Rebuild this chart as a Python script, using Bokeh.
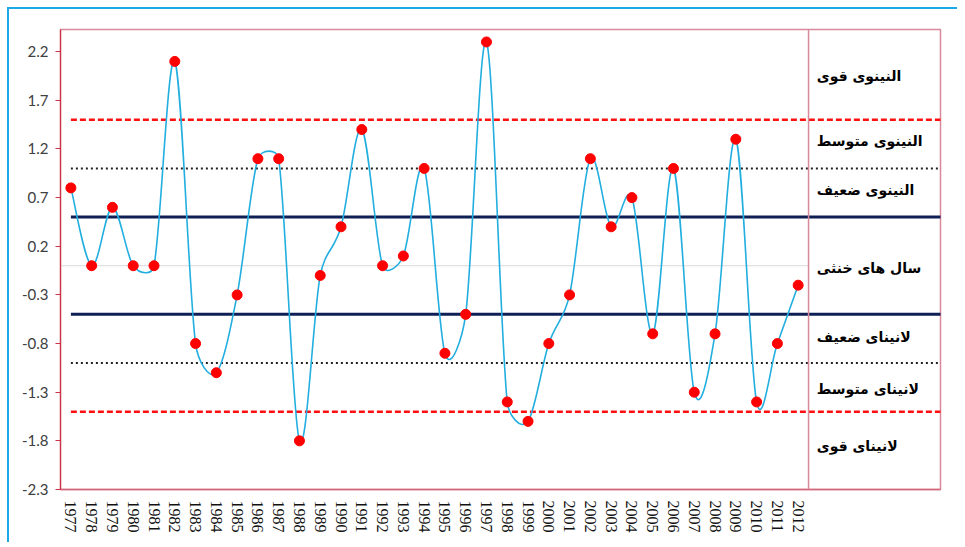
import numpy as np
from bokeh.plotting import figure
from bokeh.models import FixedTicker, Span
from bokeh.core.properties import value
from bokeh.embed import file_html
from bokeh.resources import INLINE

# ---------------- data ----------------
years = list(range(1977, 2013))
oni = [0.8, 0.0, 0.6, 0.0, 0.0, 2.1, -0.8, -1.1, -0.3, 1.1,
       1.1, -1.8, -0.1, 0.4, 1.4, 0.0, 0.1, 1.0, -0.9, -0.5,
       2.3, -1.4, -1.6, -0.8, -0.3, 1.1, 0.4, 0.7, -0.7, 1.0,
       -1.3, -0.7, 1.3, -1.4, -0.8, -0.2]

y_ticks = [-2.3, -1.8, -1.3, -0.8, -0.3, 0.2, 0.7, 1.2, 1.7, 2.2]
y_tick_labels = ["-2.3", "-1.8", "-1.3", "-0.8", "-0.3", "0.2", "0.7", "1.2", "1.7", "2.2"]

strong = [1.5, -1.5]
moderate = [1.0, -1.0]
weak = [0.5, -0.5]

class_labels = ["النینوی قوی", "النینوی متوسط", "النینوی ضعیف", "سال های خنثی",
                "لانینای ضعیف", "لانینای متوسط", "لانینای قوی"]
class_label_y = [1.95, 1.28, 0.78, -0.02, -0.73, -1.27, -1.85]

# ---------------- figure ----------------
X0, X1 = 1976.5, 2018.85
Y0, Y1 = -2.3, 2.428
W, H = 950, 535
ML, MT, MR, MB = 51, 20, 19, 55

p = figure(width=W, height=H, x_range=(X0, X1), y_range=(Y0, Y1),
           output_backend="svg", toolbar_location=None,
           min_border_left=ML, min_border_top=MT, min_border_right=MR, min_border_bottom=MB)
p.styles = {"margin-left": "9px", "margin-top": "9px",
            "box-shadow": "-2px -2px 0 0 #1CA9E6"}
p.xgrid.visible = False
p.ygrid.visible = False
p.outline_line_color = "#D8899A"
p.outline_line_width = 1.5
p.background_fill_color = "white"
p.border_fill_color = "white"

# axes
p.xaxis.ticker = FixedTicker(ticks=years)
p.xaxis.major_label_orientation = "vertical"
p.xaxis.major_label_text_font = "Liberation Serif"
p.xaxis.major_label_text_font_size = "16px"
p.xaxis.major_label_text_color = "#111111"
p.xaxis.major_tick_out = 0
p.xaxis.major_tick_in = 0
p.xaxis.minor_tick_out = 0
p.xaxis.minor_tick_in = 0
p.xaxis.major_label_standoff = 11
p.xaxis.axis_line_color = "#D4667A"
p.xaxis.axis_line_width = 1.5

p.yaxis.ticker = FixedTicker(ticks=y_ticks)
p.yaxis.major_label_overrides = {t: l for t, l in zip(y_ticks, y_tick_labels)}
p.yaxis.major_label_text_font = "Lato"
p.yaxis.major_label_text_font_size = "15px"
p.yaxis.major_label_text_color = "#404040"
p.yaxis.major_tick_out = 5
p.yaxis.major_tick_in = 0
p.yaxis.minor_tick_out = 0
p.yaxis.minor_tick_in = 0
p.yaxis.major_tick_line_color = "#CC3344"
p.yaxis.axis_line_color = "#CC3344"
p.yaxis.axis_line_width = 1.2
p.yaxis.major_label_standoff = 7

# zero line and the separator of the class column
p.segment(x0=[X0], x1=[2012.5], y0=[0], y1=[0], line_color="#D9D9D9", line_width=1)
p.add_layout(Span(location=2012.5, dimension="height", line_color="#D8899A", line_width=1.5))

# threshold lines
p.segment(x0=[1977] * 2, x1=[X1 + 1] * 2, y0=strong, y1=strong,
          line_color="#FF1010", line_width=2.5, line_dash="6 3")
p.segment(x0=[1977] * 2, x1=[X1 + 1] * 2, y0=moderate, y1=moderate,
          line_color="#222222", line_width=2, line_dash="2 3")
p.segment(x0=[1977] * 2, x1=[X1 + 1] * 2, y0=weak, y1=weak,
          line_color="#0E1F55", line_width=3)

# smoothed line (Excel-like Bezier smoothing computed in screen proportions)
sx = (W - ML - MR) / (X1 - X0)
sy = (H - MT - MB) / (Y1 - Y0)
P = np.column_stack([np.array(years, float) * sx, np.array(oni) * sy])
n = len(P)
seg = {k: [] for k in ["x0", "y0", "x1", "y1", "cx0", "cy0", "cx1", "cy1"]}
for i in range(n - 1):
    A = P[i - 1] if i > 0 else P[i]
    B = P[i]
    C = P[i + 1]
    D = P[i + 2] if i + 2 < n else P[i + 1]
    d02 = np.linalg.norm(C - A)
    d12 = np.linalg.norm(C - B)
    d13 = np.linalg.norm(D - B)
    f1 = 1 / 6 if d02 / 6 < d12 / 2 else d12 / (2 * d02)
    f2 = 1 / 6 if d13 / 6 < d12 / 2 else d12 / (2 * d13)
    c1 = B + (C - A) * f1
    c2 = C - (D - B) * f2
    seg["x0"].append(B[0] / sx); seg["y0"].append(B[1] / sy)
    seg["x1"].append(C[0] / sx); seg["y1"].append(C[1] / sy)
    seg["cx0"].append(c1[0] / sx); seg["cy0"].append(c1[1] / sy)
    seg["cx1"].append(c2[0] / sx); seg["cy1"].append(c2[1] / sy)
p.bezier(x0=seg["x0"], y0=seg["y0"], x1=seg["x1"], y1=seg["y1"],
         cx0=seg["cx0"], cy0=seg["cy0"], cx1=seg["cx1"], cy1=seg["cy1"],
         line_color="#22AEDF", line_width=1.6)

p.scatter(years, oni, size=10, fill_color="#FF0000", line_color="#FF0000")

# class labels
p.text(x=[2012.9] * len(class_labels), y=class_label_y, text=class_labels,
       text_font=value("DejaVu Sans"), text_font_style="bold", text_font_size="14px",
       text_align="left", text_baseline="middle", text_color="#000000")

open("out.html", "w").write(file_html(p, INLINE))
